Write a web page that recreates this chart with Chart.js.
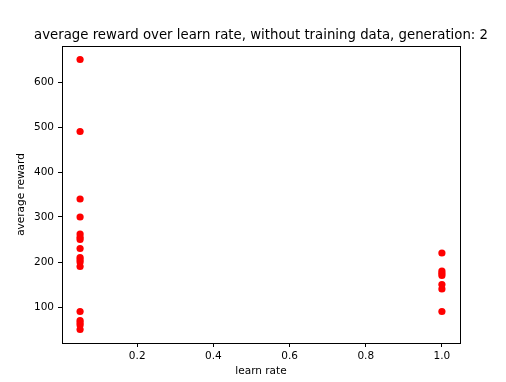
<!DOCTYPE html>
<html>
<head>
<meta charset="utf-8">
<script src="https://cdn.jsdelivr.net/npm/chart.js@4/dist/chart.umd.min.js"></script>
<style>
html,body{margin:0;padding:0;background:#fff;}
#wrap{width:506px;height:382px;}
</style>
</head>
<body>
<div id="wrap"><canvas id="c" width="506" height="382"></canvas></div>
<script>
const learnRatesLow = [0.05,0.05,0.05,0.05,0.05,0.05,0.05,0.05,0.05,0.05,0.05,0.05,0.05,0.05,0.05,0.05,0.05];
const rewardsLow = [650,490,340,300,262,255,250,230,210,205,200,190,90,70,65,60,50];
const learnRatesHigh = [1.0,1.0,1.0,1.0,1.0,1.0,1.0];
const rewardsHigh = [220,180,175,170,150,140,90];
const xTicks = [0.2,0.4,0.6,0.8,1.0];
const yTicks = [100,200,300,400,500,600];
const titleText = 'average reward over learn rate, without training data, generation: 2';
const xLabel = 'learn rate';
const yLabel = 'average reward';

const points = [];
rewardsLow.forEach((r,i)=>points.push({x: learnRatesLow[i], y: r}));
rewardsHigh.forEach((r,i)=>points.push({x: learnRatesHigh[i], y: r}));

const frame = {
  id: 'frame',
  afterDatasetsDraw(chart){
    const a = chart.chartArea, ctx = chart.ctx;
    ctx.save();
    ctx.strokeStyle = '#000';
    ctx.lineWidth = 1;
    ctx.strokeRect(Math.round(a.left)+0.5, Math.round(a.top)+0.5, Math.round(a.right-a.left), Math.round(a.bottom-a.top));
    ctx.fillStyle = '#000';
    ctx.font = '13.3px "DejaVu Sans"';
    ctx.textAlign = 'center';
    ctx.textBaseline = 'alphabetic';
    ctx.fillText(titleText, (a.left + a.right) / 2, a.top - 7);
    ctx.restore();
  }
};

const font = {family: 'DejaVu Sans', size: 10.5};
new Chart(document.getElementById('c'), {
  type: 'scatter',
  data: { datasets: [{
    data: points,
    backgroundColor: '#ff0000',
    borderColor: '#ff0000',
    borderWidth: 0,
    pointRadius: 3.6,
    pointHoverRadius: 3.6
  }]},
  options: {
    responsive: false,
    animation: false,
    events: [],
    layout: {padding: {top: 46, right: 46, left: 15, bottom: 0}},
    plugins: {
      legend: {display: false},
      tooltip: {enabled: false},
      title: {display: false}
    },
    scales: {
      x: {
        type: 'linear', min: 0.0025, max: 1.0475,
        afterBuildTicks: s => { s.ticks = xTicks.map(v=>({value:v})); },
        afterFit: s => { s.height = 39; },
        grid: {drawOnChartArea: false, drawTicks: true, tickLength: 4, color: '#000'},
        border: {display: true, color: '#000'},
        ticks: {color: '#000', font, padding: 3, maxRotation: 0, callback: v => Number(v).toFixed(1)},
        title: {display: true, text: xLabel, color: '#000', font, padding: {top: 2, bottom: 4}}
      },
      y: {
        type: 'linear', min: 20, max: 680,
        afterBuildTicks: s => { s.ticks = yTicks.map(v=>({value:v})); },
        afterFit: s => { s.width = 47; },
        grid: {drawOnChartArea: false, drawTicks: true, tickLength: 4, color: '#000'},
        border: {display: true, color: '#000'},
        ticks: {color: '#000', font, padding: 4, callback: v => String(v)},
        title: {display: true, text: yLabel, color: '#000', font, padding: {top: 0, bottom: 4}}
      }
    }
  },
  plugins: [frame]
});
</script>
</body>
</html>
